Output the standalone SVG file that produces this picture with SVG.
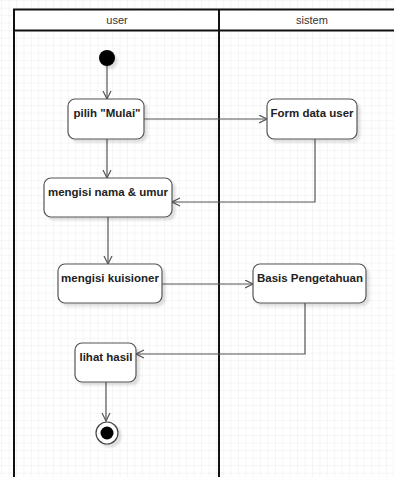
<svg xmlns="http://www.w3.org/2000/svg" width="394" height="477" viewBox="0 0 394 477">
<defs>
<pattern id="grid" x="1.2" y="0.2" width="7.4" height="7.5" patternUnits="userSpaceOnUse">
<path d="M0,0 H7.4 M0,0 V7.5" fill="none" stroke="#ececec" stroke-width="1"/>
</pattern>
<filter id="sh" x="-20%" y="-20%" width="150%" height="150%">
<feDropShadow dx="3" dy="3" stdDeviation="1.2" flood-color="#000" flood-opacity="0.12"/>
</filter>
<marker id="arr" markerWidth="10" markerHeight="10" refX="8.5" refY="4.5" orient="auto" markerUnits="userSpaceOnUse">
<path d="M0.5,0.5 L8.5,4.5 L0.5,8.5" fill="none" stroke="#555" stroke-width="1.2"/>
</marker>
<style>
.node{fill:#fff;stroke:#555;stroke-width:1.2;filter:url(#sh)}
.lbl{font-family:"Liberation Sans",Arial,sans-serif;font-size:11.5px;font-weight:bold;fill:#222;text-anchor:middle}
.hdr{font-family:"Liberation Sans",Arial,sans-serif;font-size:11px;fill:#333;text-anchor:middle}
.edge{fill:none;stroke:#555;stroke-width:1.2;marker-end:url(#arr)}
.lane{fill:none;stroke:#111;stroke-width:2}
</style>
</defs>
<rect width="394" height="477" fill="#fff"/>
<rect width="394" height="477" fill="url(#grid)"/>
<g id="swimlane">
<rect x="14" y="9.5" width="390" height="21" fill="#fff"/>
<path class="lane" d="M394,9.5 H14 V477 M14,30.5 H394 M219,9.5 V477"/>
<text class="hdr" x="117" y="24">user</text>
<text class="hdr" x="312" y="24">sistem</text>
</g>
<g id="connectors">
<path class="edge" d="M107,66 V99"/>
<path class="edge" d="M144,119 H267"/>
<path class="edge" d="M107,139 V178"/>
<path class="edge" d="M315,139 V202 H172"/>
<path class="edge" d="M108,217 V264"/>
<path class="edge" d="M162,284 H253"/>
<path class="edge" d="M305,303 V354 H136"/>
<path class="edge" d="M106,382 V421"/>
</g>
<g id="start"><circle cx="107" cy="58" r="8" fill="#000" filter="url(#sh)"/></g>
<g id="pilih"><rect class="node" x="68" y="99" width="76" height="40" rx="7"/><text class="lbl" x="107" y="117">pilih "Mulai"</text></g>
<g id="form"><rect class="node" x="267" y="99" width="90" height="40" rx="7"/><text class="lbl" x="312" y="117">Form data user</text></g>
<g id="nama"><rect class="node" x="44" y="178" width="128" height="39" rx="7"/><text class="lbl" x="108" y="196">mengisi nama &amp; umur</text></g>
<g id="kuisioner"><rect class="node" x="58" y="264" width="104" height="39" rx="7"/><text class="lbl" x="110" y="282">mengisi kuisioner</text></g>
<g id="basis"><rect class="node" x="253" y="264" width="113" height="39" rx="7"/><text class="lbl" x="310" y="282">Basis Pengetahuan</text></g>
<g id="lihat"><rect class="node" x="75" y="343" width="61" height="39" rx="7"/><text class="lbl" x="106" y="361">lihat hasil</text></g>
<g id="end"><circle cx="107" cy="433" r="11" fill="#fff" stroke="#444" stroke-width="1.2" filter="url(#sh)"/><circle cx="107" cy="433" r="6.5" fill="#000"/></g>
</svg>
